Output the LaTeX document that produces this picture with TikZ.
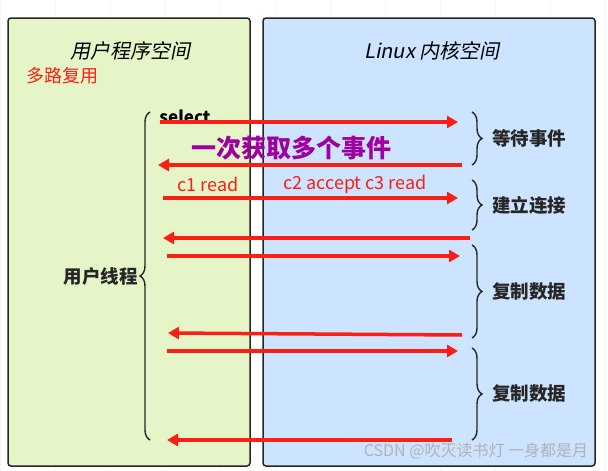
\documentclass[tikz,border=0pt]{standalone}
\usepackage{fontspec}
\setmainfont{Noto Sans CJK SC}
\newfontfamily\cjkit[FakeSlant=0.2]{Noto Sans CJK SC}
\usetikzlibrary{decorations.pathreplacing,arrows.meta}
\definecolor{userfill}{RGB}{229,245,200}
\definecolor{kernfill}{RGB}{204,228,255}
\definecolor{callred}{RGB}{250,30,20}
\tikzset{
  panel/.style={draw=black!85,line width=1.5pt,rounded corners=3pt},
  call/.style={draw=callred,line width=3.5pt,-{Triangle[length=11pt,width=12pt]}},
  brace/.style={draw=black!85,line width=1.4pt,decorate,decoration={brace,amplitude=10pt}},
  side/.style={font=\bfseries\fontsize{18.5}{18.5}\selectfont,text=black!85},
  redtext/.style={text=callred,font=\fontsize{18}{18}\selectfont}
}
\begin{document}
\begin{tikzpicture}[x=1pt,y=-1pt]
  \useasboundingbox (0,0) rectangle (608,471);
  \fill[white] (0,0) rectangle (608,471);
  \draw[black!4] (0,0) grid[step=55] (608,471);
  % panels
  \draw[panel,fill=userfill] (8,18) rectangle (250,466);
  \draw[panel,fill=kernfill] (263,18) rectangle (595,466);
  \node[font=\cjkit\fontsize{20}{20}\selectfont] (user) at (130,51) {用户程序空间};
  \node[font=\cjkit\fontsize{20}{20}\selectfont] (kernel) at (432,51) {Linux 内核空间};
  \node[redtext] (mux) at (62,76) {多路复用};
  % user thread
  \draw[brace] (150,440) -- (150,112) node[midway,left=8pt,side] (thread) {用户线程};
  \node[font=\bfseries\fontsize{17}{17}\selectfont] (select) at (185,117) {select};
  % calls
  \coordinate (a1) at (160,122); \coordinate (b1) at (458,122);
  \coordinate (a2) at (158,165); \coordinate (b2) at (462,165);
  \coordinate (a3) at (163,198); \coordinate (b3) at (458,198);
  \coordinate (a4) at (163,238); \coordinate (b4) at (470,238);
  \coordinate (a5) at (167,256); \coordinate (b5) at (460,256);
  \coordinate (a6) at (168,333); \coordinate (b6) at (462,335);
  \coordinate (a7) at (167,351); \coordinate (b7) at (458,351);
  \coordinate (a8) at (167,440); \coordinate (b8) at (452,440);
  \foreach \i in {1,3,5,7} \draw[call] (a\i) -- (b\i);
  \foreach \i in {2,4,6,8} \draw[call] (b\i) -- (a\i);
  \node[text=violet!75!magenta,font=\bfseries\fontsize{25}{25}\selectfont] (many) at (291,148) {一次获取多个事件};
  \node[redtext] (c1) at (208,184) {c1 read};
  \node[redtext] (c23) at (355,184) {c2 accept c3 read};
  % kernel side
  \draw[brace] (472,112) -- (472,165) node[midway,right=16pt,side] (wait) {等待事件};
  \draw[brace] (472,180) -- (472,230) node[midway,right=16pt,side] (conn) {建立连接};
  \draw[brace] (472,245) -- (472,338) node[midway,right=16pt,side] (copy1) {复制数据};
  \draw[brace] (472,348) -- (472,440) node[midway,right=16pt,side] (copy2) {复制数据};
  \node[text=black!30,font=\fontsize{16}{16}\selectfont] (mark) at (476,451) {CSDN @吹灭读书灯 一身都是月};
\end{tikzpicture}
\end{document}
